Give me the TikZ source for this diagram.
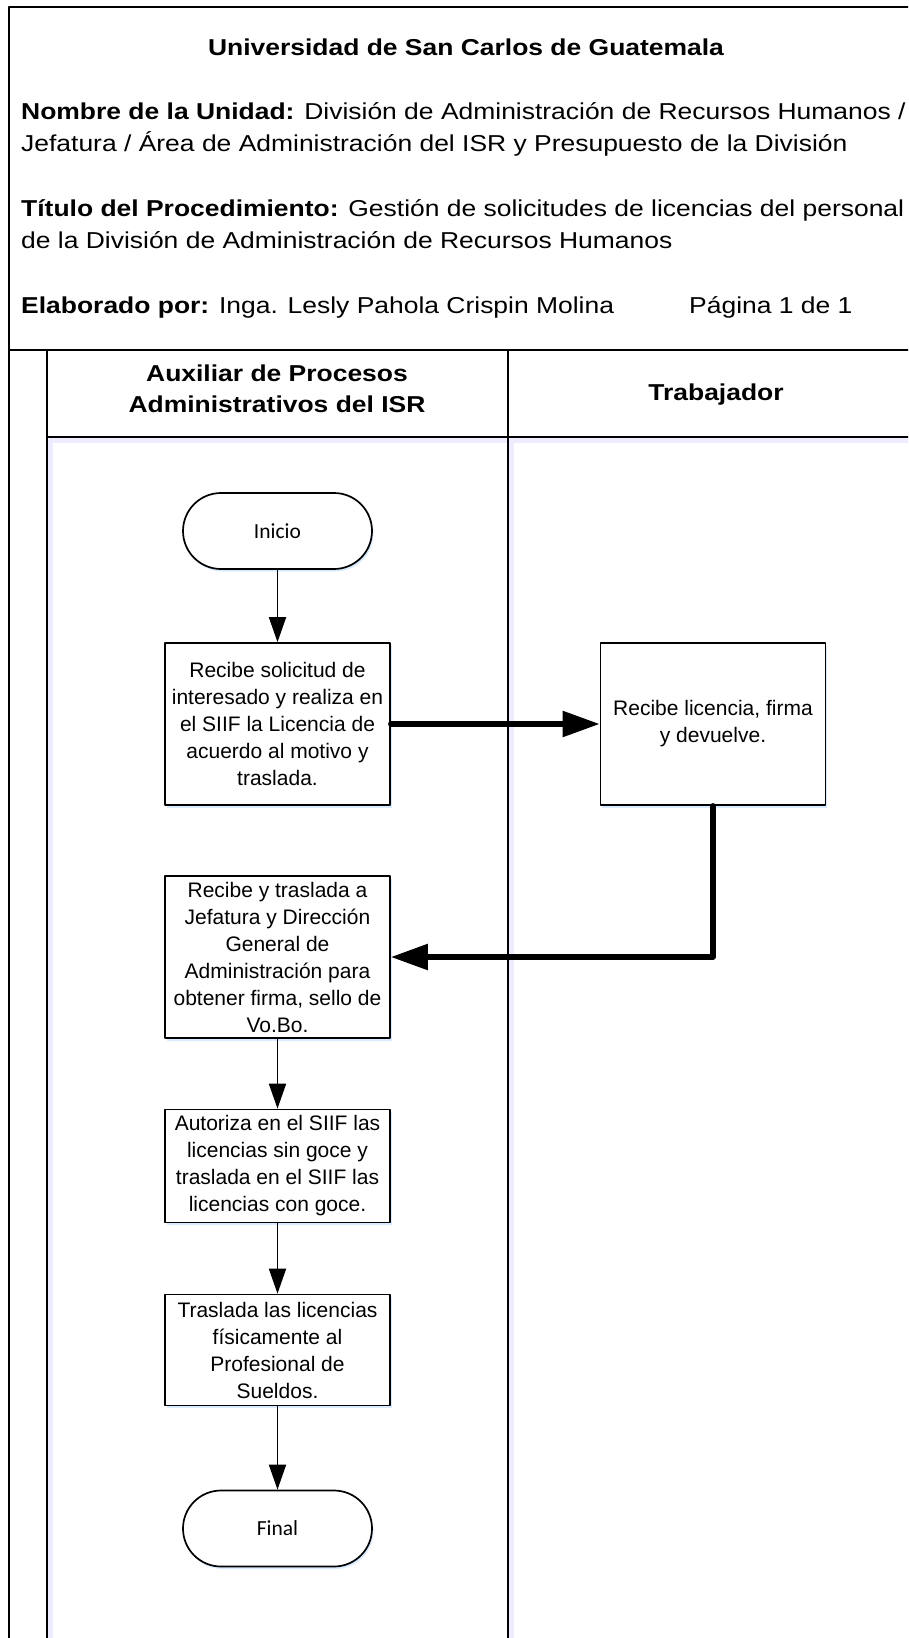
\documentclass[tikz,border=0pt]{standalone}
\usepackage{fontspec}
\setmainfont{Liberation Sans}
\newfontfamily\hdrfont[FakeStretch=1.15]{Liberation Sans}
\newfontfamily\termfont{Carlito}
\usetikzlibrary{arrows.meta,shadows}

\tikzset{
    frameline/.style={line width=2.2pt},
    glow/.style={line width=6pt, blue!7},
    hdr/.style={anchor=base west, inner sep=0pt, font=\hdrfont\fontsize{23}{28}\selectfont},
    lanehdr/.style={anchor=base, inner sep=0pt, font=\hdrfont\bfseries\fontsize{23}{28}\selectfont},
    soft/.style={drop shadow={shadow xshift=1.5pt, shadow yshift=-2.5pt, fill=blue!50!cyan, opacity=0.15}},
    proc/.style={draw, soft, fill=white, line width=1.7pt, minimum width=225pt, align=center,
        inner sep=2pt, font=\fontsize{21}{27}\selectfont},
    term/.style={draw, soft, fill=white, line width=1.7pt, rounded corners=38pt, minimum width=189pt,
        minimum height=76pt, font=\termfont\fontsize{21.5}{26}\selectfont},
    flow/.style={line width=1.8pt, -{Triangle[length=25pt,width=17pt]}},
    bigflow/.style={line width=5.5pt, line cap=round, -{Triangle[length=37pt,width=25pt]}}
}

\begin{document}
\begin{tikzpicture}[x=1pt, y=-1pt, line join=round]
    \fill[white] (0,0) rectangle (908,1638);
    \useasboundingbox (0,0) rectangle (908,1638);
    \clip (0,0) rectangle (908,1638);

    % heading
    \node[anchor=base, inner sep=0pt, font=\hdrfont\bfseries\fontsize{23}{28}\selectfont] (uni) at (466,55) {Universidad de San Carlos de Guatemala};
    \node[hdr] (unidadA) at (21,119) {\textbf{Nombre de la Unidad:} División de Administración de Recursos Humanos /};
    \node[hdr] (unidadB) at (21,151) {Jefatura / Área de Administración del ISR y Presupuesto de la División};
    \node[hdr] (procA) at (21,216) {\textbf{Título del Procedimiento:} Gestión de solicitudes de licencias del personal};
    \node[hdr] (procB) at (21,248) {de la División de Administración de Recursos Humanos};
    \node[hdr] (autor) at (21,313) {\textbf{Elaborado por:} Inga. Lesly Pahola Crispin Molina};
    \node[hdr] (pagina) at (689,313) {Página 1 de 1};

    % lanes
    \draw[glow] (50,440) -- (50,1700);
    \draw[glow] (49,440) -- (960,440);
    \draw[glow] (511,440) -- (511,1700);
    \draw[frameline] (9,1700) -- (9,7) -- (960,7);
    \draw[frameline] (9,350) -- (960,350);
    \draw[frameline] (47,350) -- (47,1700);
    \draw[frameline] (508,350) -- (508,1700);
    \draw[frameline] (47,437) -- (960,437);

    \node[lanehdr] (auxA) at (277,381) {Auxiliar de Procesos};
    \node[lanehdr] (auxB) at (277,412) {Administrativos del ISR};
    \node[lanehdr] (trab) at (716,400) {Trabajador};

    % steps
    \node[term] (ini) at (277.5,531) {Inicio};
    \node[proc, minimum height=162pt] (recibe) at (277.5,724) {Recibe solicitud de\\interesado y realiza en\\el SIIF la Licencia de\\acuerdo al motivo y\\traslada.};
    \node[proc, minimum height=162pt] (firma) at (713,724) {Recibe licencia, firma\\y devuelve.};
    \node[proc, minimum height=162pt] (vobo) at (277.5,957) {Recibe y traslada a\\Jefatura y Dirección\\General de\\Administración para\\obtener firma, sello de\\Vo.Bo.};
    \node[proc, minimum height=113pt] (autoriza) at (277.5,1166) {Autoriza en el SIIF las\\licencias sin goce y\\traslada en el SIIF las\\licencias con goce.};
    \node[proc, minimum height=111pt] (envia) at (277.5,1350) {Traslada las licencias\\físicamente al\\Profesional de\\Sueldos.};
    \node[term] (fin) at (277.5,1528.5) {Final};

    \draw[flow] (ini) -- (recibe);
    \draw[bigflow] (recibe.east) -- (firma.west);
    \draw[bigflow] (firma.south) |- (vobo.east);
    \draw[flow] (vobo) -- (autoriza);
    \draw[flow] (autoriza) -- (envia);
    \draw[flow] (envia) -- (fin);
\end{tikzpicture}
\end{document}
